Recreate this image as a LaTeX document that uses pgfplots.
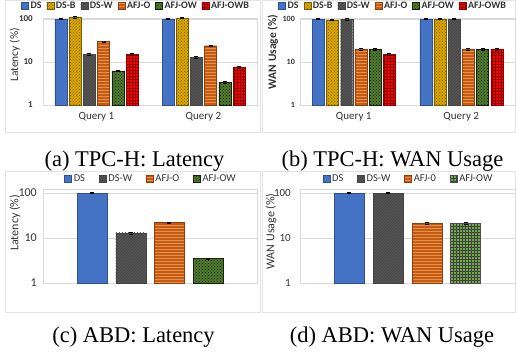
\documentclass[border=0pt]{standalone}
\usepackage{fontspec}
\setmainfont{Liberation Serif}
\newfontfamily\capfont{Liberation Serif}
\newfontfamily\carlito{Carlito}
\usepackage{pgfplots}
\pgfplotsset{compat=1.18}
\usetikzlibrary{patterns}

\definecolor{cDS}{HTML}{4472C4}
\definecolor{cDSB}{HTML}{D9A600}
\definecolor{cDSBp}{HTML}{7A5C00}
\definecolor{cDSW}{HTML}{555555}
\definecolor{cDSWp}{HTML}{444444}
\definecolor{cO}{HTML}{C55A11}
\definecolor{cOp}{HTML}{E8904E}
\definecolor{cOW}{HTML}{4E7A2E}
\definecolor{cOWp}{HTML}{142009}
\definecolor{cOWl}{HTML}{70AD47}
\definecolor{cOWB}{HTML}{FF0000}
\definecolor{cOWBp}{HTML}{8B0000}
\definecolor{frm}{HTML}{E3E3E3}
\definecolor{grd}{HTML}{D9D9D9}
\definecolor{txt}{HTML}{333333}

\tikzset{
  sDS/.style={fill=cDS, draw=cDS!70!black, line width=0.3pt},
  sDSB/.style={fill=cDSB, draw=cDSBp, line width=0.3pt, postaction={pattern=crosshatch dots, pattern color=cDSBp}},
  sDSW/.style={fill=cDSW, draw=cDSWp, line width=0.3pt, postaction={pattern=north east lines, pattern color=cDSWp}},
  sO/.style={fill=cO, draw=cO!70!black, line width=0.3pt, postaction={pattern=horizontal lines, pattern color=cOp}},
  sOW/.style={fill=cOW, draw=cOWp, line width=0.3pt, postaction={pattern=crosshatch dots, pattern color=cOWp}},
  sOWg/.style={fill=cOWl, draw=black!70, line width=0.3pt, postaction={pattern=grid, pattern color=black!75}},
  sOWB/.style={fill=cOWB, draw=cOWBp, line width=0.3pt, postaction={pattern=grid, pattern color=cOWBp}},
}

\pgfplotsset{
  every axis/.append style={
    scale only axis, enlarge x limits=false, enlarge y limits=false,
    ymajorgrids, grid style={draw=grd, line width=0.5pt},
    axis line style={draw=grd, line width=0.5pt},
    tick style={draw=none}, major tick length=0pt, minor tick length=0pt,
    clip=false,
    yticklabel style={font=\carlito\bfseries\fontsize{9}{10}\selectfont, text=txt, inner sep=0pt, anchor=east},
    xticklabel style={font=\carlito\fontsize{11}{12}\selectfont, text=txt, inner sep=0pt, anchor=north, yshift=-7pt},
    ylabel style={font=\carlito\fontsize{11.5}{13}\selectfont, text=txt, anchor=center, rotate=0},
    legend columns=-1,
    legend style={draw=none, fill=none, inner sep=0pt, text=txt},
  },
}

\begin{document}
\begin{tikzpicture}
\path[fill=white] (0pt,0pt) rectangle (516pt,358pt);
\path[use as bounding box] (0pt,0pt) rectangle (516pt,358pt);
% panel frames
\draw[frm, line width=0.6pt] (5pt,226pt) rectangle (260.5pt,357.7pt);
\draw[frm, line width=0.6pt] (262.5pt,226pt) rectangle (515.6pt,357.7pt);
\draw[frm, line width=0.6pt] (5pt,46pt) rectangle (260.5pt,187pt);
\draw[frm, line width=0.6pt] (262.5pt,46pt) rectangle (515.6pt,187pt);

% (a) TPC-H latency
\begin{axis}[ymode=log, ymin=1, ymax=105, ytick={1,10,100}, yticklabels={1,10,100},
  anchor=south west, at={(43pt,253pt)}, width=214pt, height=86.9pt,
  xmin=-0.5, xmax=1.5, bar width=12pt,
  xtick={0,1}, xticklabels={Query 1,Query 2},
  yticklabel style={xshift=-10pt},
  ylabel={Latency (\%)}, ylabel style={at={(axis description cs:-0.131,0.575)}},
  legend style={at={(axis description cs:0.435,1.139)}, anchor=center,
    font=\carlito\bfseries\fontsize{10}{11}\selectfont,
    /tikz/every even column/.append style={column sep=3pt}},
  ybar=2.2pt,
  legend image code/.code={\draw[#1] (0pt,-3.5pt) rectangle (7pt,3.5pt);}]
\addplot[sDS, error bars/.cd, y dir=both, y explicit] coordinates {(0,100) +- (0,2) (1,100) +- (0,2)};
\addplot[sDSB, error bars/.cd, y dir=both, y explicit] coordinates {(0,110) +- (0,4) (1,105) +- (0,3)};
\addplot[sDSW, error bars/.cd, y dir=both, y explicit] coordinates {(0,15) +- (0,0.6) (1,13) +- (0,0.5)};
\addplot[sO, error bars/.cd, y dir=both, y explicit] coordinates {(0,30) +- (0,1.2) (1,24) +- (0,1)};
\addplot[sOW, error bars/.cd, y dir=both, y explicit] coordinates {(0,6.2) +- (0,0.25) (1,3.4) +- (0,0.15)};
\addplot[sOWB, error bars/.cd, y dir=both, y explicit] coordinates {(0,15) +- (0,0.6) (1,7.5) +- (0,0.3)};
\legend{DS,DS-B,DS-W,AFJ-O,AFJ-OW,AFJ-OWB}
\end{axis}

% (b) TPC-H WAN usage
\begin{axis}[ymode=log, ymin=1, ymax=105, ytick={1,10,100}, yticklabels={1,10,100},
  anchor=south west, at={(300pt,253pt)}, width=215pt, height=86.9pt,
  xmin=-0.5, xmax=1.5, bar width=12pt,
  xtick={0,1}, xticklabels={Query 1,Query 2},
  yticklabel style={xshift=-5pt, font=\carlito\bfseries\fontsize{8}{9}\selectfont},
  ylabel={WAN Usage (\%)}, ylabel style={at={(axis description cs:-0.126,0.61)}, font=\carlito\bfseries\fontsize{11.5}{13}\selectfont},
  legend style={at={(axis description cs:0.433,1.139)}, anchor=center,
    font=\carlito\bfseries\fontsize{10}{11}\selectfont,
    /tikz/every even column/.append style={column sep=3pt}},
  ybar=2.2pt,
  legend image code/.code={\draw[#1] (0pt,-3.5pt) rectangle (7pt,3.5pt);}]
\addplot[sDS, error bars/.cd, y dir=both, y explicit] coordinates {(0,100) +- (0,2) (1,100) +- (0,2)};
\addplot[sDSB, error bars/.cd, y dir=both, y explicit] coordinates {(0,96) +- (0,4) (1,100) +- (0,3)};
\addplot[sDSW, error bars/.cd, y dir=both, y explicit] coordinates {(0,100) +- (0,4) (1,100) +- (0,3)};
\addplot[sO, error bars/.cd, y dir=both, y explicit] coordinates {(0,20) +- (0,0.8) (1,20) +- (0,0.8)};
\addplot[sOW, error bars/.cd, y dir=both, y explicit] coordinates {(0,20) +- (0,0.8) (1,20) +- (0,0.8)};
\addplot[sOWB, error bars/.cd, y dir=both, y explicit] coordinates {(0,15) +- (0,0.6) (1,20) +- (0,0.8)};
\legend{DS,DS-B,DS-W,AFJ-O,AFJ-OW,AFJ-OWB}
\end{axis}

% (c) ABD latency
\begin{axis}[ymode=log, ymin=1, ymax=123, ytick={1,10,100}, yticklabels={1,10,100},
  anchor=south west, at={(43pt,75pt)}, width=214pt, height=94pt,
  xmin=-0.5, xmax=0.5, bar width=30pt, xtick=\empty,
  yticklabel style={xshift=-6pt, font=\carlito\fontsize{12}{13}\selectfont},
  ylabel={Latency (\%)}, ylabel style={at={(axis description cs:-0.131,0.64)}, font=\carlito\fontsize{12}{13}\selectfont},
  legend style={at={(axis description cs:0.505,1.0)}, anchor=south, yshift=4pt,
    font=\carlito\fontsize{10.5}{12}\selectfont,
    /tikz/every even column/.append style={column sep=12pt}},
  ybar=8.7pt,
  legend image code/.code={\draw[#1] (0pt,-3.5pt) rectangle (7pt,3.5pt);}]
\addplot[sDS, error bars/.cd, y dir=both, y explicit] coordinates {(0,100) +- (0,2)};
\addplot[sDSW, error bars/.cd, y dir=both, y explicit] coordinates {(0,13) +- (0,0.6)};
\addplot[sO, error bars/.cd, y dir=both, y explicit] coordinates {(0,22) +- (0,1)};
\addplot[sOW, error bars/.cd, y dir=both, y explicit] coordinates {(0,3.5) +- (0,0.15)};
\legend{DS,DS-W,AFJ-O,AFJ-OW}
\end{axis}

% (d) ABD WAN usage
\begin{axis}[ymode=log, ymin=1, ymax=123, ytick={1,10,100}, yticklabels={1,10,100},
  anchor=south west, at={(300pt,75pt)}, width=215pt, height=94pt,
  xmin=-0.5, xmax=0.5, bar width=30pt, xtick=\empty,
  yticklabel style={xshift=-9pt, font=\carlito\fontsize{11}{12}\selectfont},
  ylabel={WAN Usage (\%)}, ylabel style={at={(axis description cs:-0.135,0.55)}, font=\carlito\fontsize{12}{13}\selectfont},
  legend style={at={(axis description cs:0.505,1.0)}, anchor=south, yshift=4pt,
    font=\carlito\fontsize{10.5}{12}\selectfont,
    /tikz/every even column/.append style={column sep=12pt}},
  ybar=8.7pt,
  legend image code/.code={\draw[#1] (0pt,-3.5pt) rectangle (7pt,3.5pt);}]
\addplot[sDS, error bars/.cd, y dir=both, y explicit] coordinates {(0,100) +- (0,2)};
\addplot[sDSW, error bars/.cd, y dir=both, y explicit] coordinates {(0,100) +- (0,3)};
\addplot[sO, error bars/.cd, y dir=both, y explicit] coordinates {(0,21) +- (0,1)};
\addplot[sOWg, error bars/.cd, y dir=both, y explicit] coordinates {(0,21) +- (0,1)};
\legend{DS,DS-W,AFJ-0,AFJ-OW}
\end{axis}

% captions
\node[anchor=base, font=\capfont\fontsize{22.5}{26}\selectfont] at (134.5pt,191.3pt) {(a) TPC-H: Latency};
\node[anchor=base, font=\capfont\fontsize{22.5}{26}\selectfont] at (392.5pt,191.3pt) {(b) TPC-H: WAN Usage};
\node[anchor=base, font=\capfont\fontsize{22.5}{26}\selectfont] at (133.5pt,15.7pt) {(c) ABD: Latency};
\node[anchor=base, font=\capfont\fontsize{22.5}{26}\selectfont] at (392pt,15.7pt) {(d) ABD: WAN Usage};
\end{tikzpicture}
\end{document}
